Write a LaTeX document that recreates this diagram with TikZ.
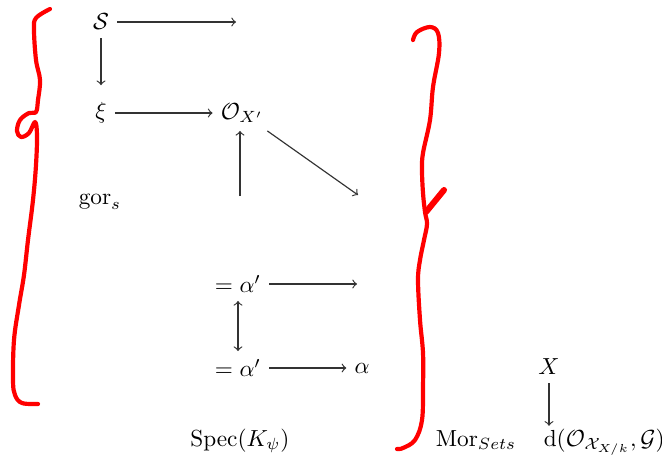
\documentclass[tikz,border=0pt]{standalone}
\usepackage{amsmath}
\usetikzlibrary{positioning}
\begin{document}
\begin{tikzpicture}[x=0.43pt,y=-0.43pt,
  map/.style={->,line width=0.5pt,black!80},
  brace/.style={red,line width=1.8pt,line cap=round,line join=round}]
\useasboundingbox (0,0) rectangle (662,472);

\node (S) at (101,22) {\(\mathcal{S}\)};
\node (xi) at (101,113) {\(\xi\)};
\node (O) at (242,113) {\(\mathcal{O}_{X'}\)};
\node (gor) at (100,202) {\(\mathrm{gor}_s\)};
\node (a1) at (238,284) {\(=\alpha'\)};
\node (a2) at (238,368) {\(=\alpha'\)};
\node (al) at (362,368) {\(\alpha\)};
\node[anchor=base] (spec) at (240,446) {\(\mathrm{Spec}(K_\psi)\)};
\node[anchor=base] (mor) at (476,446) {\(\mathrm{Mor}_{Sets}\)};
\node (X) at (549,367) {\(X\)};
\node[anchor=base west,inner sep=1pt] (d) at (541,446) {\(\mathrm{d}(\mathcal{O}_{\mathcal{X}_{X/k}},\mathcal{G})\)};

\coordinate (sE) at (236,22);
\coordinate (oU) at (240,196);
\coordinate (dE) at (358,195);
\coordinate (aE) at (357,284);

\draw[map] (S) -- (sE);
\draw[map,shorten >=4pt] (S) -- (xi);
\draw[map] (xi) -- (O);
\draw[map] (oU) -- (oU |- O.south);
\draw[map] (O) -- (dE);
\draw[map] (a1) -- (aE);
\draw[<->,line width=0.5pt,black!80] (a1) -- (a2);
\draw[map] (a2) -- (al);
\draw[map] (X) -- (X |- d.north);

% red brackets
\draw[brace] plot[smooth,tension=0.6] coordinates {(50,9) (36,18) (34,30) (36,60) (40,80) (38,100) (36,112)
  (29,113) (20,120) (17,131) (21,137) (29,133) (35,122) (37,135) (36,165) (33,200) (28,240) (24,275)
  (19,305) (14,340) (13,380) (15,395) (22,403) (38,404)};
\draw[brace] plot[smooth,tension=0.6] coordinates {(413,40) (417,32) (430,27) (438,33) (439,53) (433,87)
  (430,120) (423,153) (422,170) (423,193) (425,212) (427,224) (424,240) (420,260) (418,280) (420,320)
  (423,353) (423,387) (422,420) (415,440) (403,448) (397,449)};
\draw[brace,line width=2.6pt] (426,212) -- (444,190);
\end{tikzpicture}
\end{document}
